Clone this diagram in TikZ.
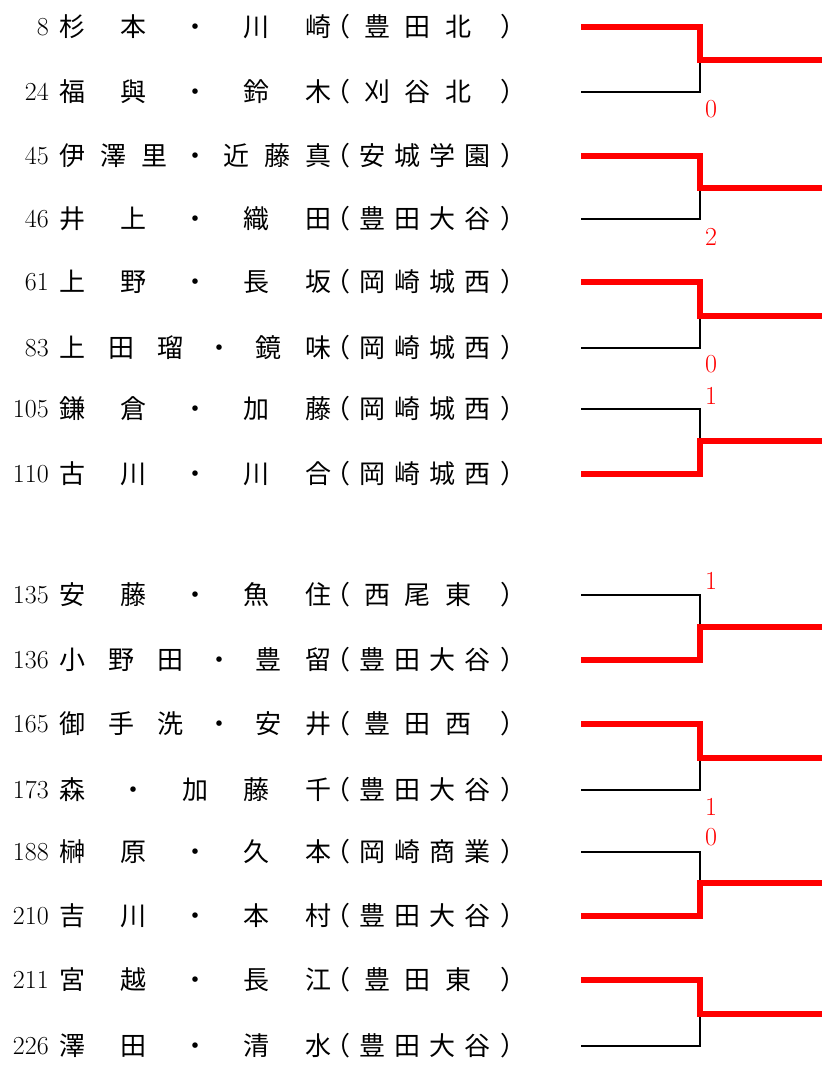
\documentclass[tikz,border=0pt]{standalone}
\usepackage{fontspec}
\newfontfamily\jpfont{Noto Sans CJK JP}
\usetikzlibrary{positioning}

\newcommand{\namefield}[1]{\makebox[272pt][s]{#1}}
\newcommand{\schoolfield}[1]{\makebox[202pt][s]{#1}}
\newcommand{\entry}[5]{%
  \node[num](n#1) at (49,#2) {#3};
  \node[player](p#1) at (59,#2) {\namefield{#4}};
  \node[player](s#1) at (324,#2) {\schoolfield{#5}};
  \coordinate(e#1) at (581,#2);}

\begin{document}
\begin{tikzpicture}[x=1pt,y=-1pt,
    num/.style={anchor=east,inner sep=0pt,font=\fontsize{26}{26}\selectfont},
    player/.style={anchor=west,inner sep=0pt,font=\jpfont\fontsize{26}{26}\selectfont},
    score/.style={text=red,inner sep=0pt,font=\fontsize{26}{26}\selectfont},
    lose/.style={line width=2.7pt},
    win/.style={red,line width=6pt}]
    \useasboundingbox(0,0) rectangle (822,1068);
    \entry{1}{27}{8}{杉\hfill 本\hfill ・\hfill 川\hfill 崎}{（\hfill 豊\hfill 田\hfill 北\hfill\hfill ）}
    \entry{2}{92}{24}{福\hfill 與\hfill ・\hfill 鈴\hfill 木}{（\hfill 刈\hfill 谷\hfill 北\hfill\hfill ）}
    \entry{3}{156}{45}{伊\hfill 澤\hfill 里\hfill ・\hfill 近\hfill 藤\hfill 真}{（\hfill 安\hfill 城\hfill 学\hfill 園\hfill ）}
    \entry{4}{219}{46}{井\hfill 上\hfill ・\hfill 織\hfill 田}{（\hfill 豊\hfill 田\hfill 大\hfill 谷\hfill ）}
    \entry{5}{282}{61}{上\hfill 野\hfill ・\hfill 長\hfill 坂}{（\hfill 岡\hfill 崎\hfill 城\hfill 西\hfill ）}
    \entry{6}{348}{83}{上\hfill 田\hfill 瑠\hfill ・\hfill 鏡\hfill 味}{（\hfill 岡\hfill 崎\hfill 城\hfill 西\hfill ）}
    \entry{7}{409}{105}{鎌\hfill 倉\hfill ・\hfill 加\hfill 藤}{（\hfill 岡\hfill 崎\hfill 城\hfill 西\hfill ）}
    \entry{8}{474}{110}{古\hfill 川\hfill ・\hfill 川\hfill 合}{（\hfill 岡\hfill 崎\hfill 城\hfill 西\hfill ）}
    \entry{9}{595}{135}{安\hfill 藤\hfill ・\hfill 魚\hfill 住}{（\hfill 西\hfill 尾\hfill 東\hfill\hfill ）}
    \entry{10}{660}{136}{小\hfill 野\hfill 田\hfill ・\hfill 豊\hfill 留}{（\hfill 豊\hfill 田\hfill 大\hfill 谷\hfill ）}
    \entry{11}{724}{165}{御\hfill 手\hfill 洗\hfill ・\hfill 安\hfill 井}{（\hfill 豊\hfill 田\hfill 西\hfill\hfill ）}
    \entry{12}{790}{173}{森\hfill ・\hfill 加\hfill 藤\hfill 千}{（\hfill 豊\hfill 田\hfill 大\hfill 谷\hfill ）}
    \entry{13}{852}{188}{榊\hfill 原\hfill ・\hfill 久\hfill 本}{（\hfill 岡\hfill 崎\hfill 商\hfill 業\hfill ）}
    \entry{14}{916}{210}{吉\hfill 川\hfill ・\hfill 本\hfill 村}{（\hfill 豊\hfill 田\hfill 大\hfill 谷\hfill ）}
    \entry{15}{980}{211}{宮\hfill 越\hfill ・\hfill 長\hfill 江}{（\hfill 豊\hfill 田\hfill 東\hfill\hfill ）}
    \entry{16}{1046}{226}{澤\hfill 田\hfill ・\hfill 清\hfill 水}{（\hfill 豊\hfill 田\hfill 大\hfill 谷\hfill ）}
    % first round brackets
    \foreach \m/\y in {1/60,2/188,3/316,4/441,5/627,6/758,7/883,8/1014}{
      \coordinate(m\m) at (700,\y);
      \coordinate(o\m) at (822,\y);
    }
    \draw[lose](e2) -| (m1);
    \draw[win](e1) -| (m1) -- (o1);
    \draw[lose](e4) -| (m2);
    \draw[win](e3) -| (m2) -- (o2);
    \draw[lose](e6) -| (m3);
    \draw[win](e5) -| (m3) -- (o3);
    \draw[lose](e7) -| (m4);
    \draw[win](e8) -| (m4) -- (o4);
    \draw[lose](e9) -| (m5);
    \draw[win](e10) -| (m5) -- (o5);
    \draw[lose](e12) -| (m6);
    \draw[win](e11) -| (m6) -- (o6);
    \draw[lose](e13) -| (m7);
    \draw[win](e14) -| (m7) -- (o7);
    \draw[lose](e16) -| (m8);
    \draw[win](e15) -| (m8) -- (o8);
    % scores
    \node[score](sc1) at (711,109) {0};
    \node[score](sc2) at (711,237) {2};
    \node[score](sc3) at (711,364) {0};
    \node[score](sc4) at (711,396) {1};
    \node[score](sc5) at (711,581) {1};
    \node[score](sc6) at (711,807) {1};
    \node[score](sc7) at (711,837) {0};
\end{tikzpicture}
\end{document}
